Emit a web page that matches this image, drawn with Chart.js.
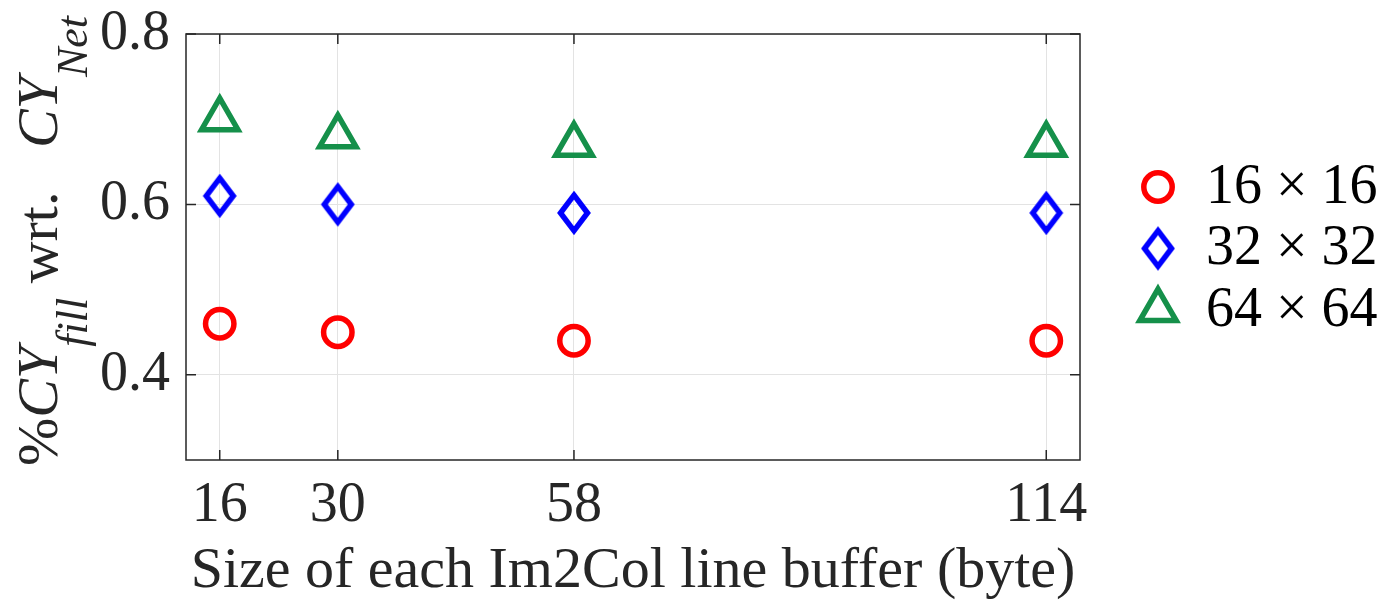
<!DOCTYPE html>
<html>
<head>
<meta charset="utf-8">
<script src="https://cdn.jsdelivr.net/npm/chart.js@4.4.1/dist/chart.umd.min.js"></script>
<style>
  body { margin: 0; background: #fff; }
  #wrap { width: 1389px; height: 601px; }
</style>
</head>
<body>
<div id="wrap"><canvas id="cyChart"></canvas></div>
<script>
// x: line buffer size in bytes
const bufferSizes = [16, 30, 58, 114];
const seriesLabels = ['16 \u00d7 16', '32 \u00d7 32', '64 \u00d7 64'];
// %CY_fill wrt. CY_Net for each kernel size
const cy16 = [0.46, 0.45, 0.44, 0.44];
const cy32 = [0.61, 0.60, 0.59, 0.59];
const cy64 = [0.70, 0.68, 0.67, 0.67];
const yTicks = [0.4, 0.6, 0.8];
const xTitle = 'Size of each Im2Col line buffer (byte)';

const FONT = "'Liberation Serif', 'Times New Roman', serif";
const AXIS_COLOR = '#262626';
const RED = '#ff0000', BLUE = '#0000ff', GREEN = '#15904a';

// matlab style diamond (taller than wide)
function makeDiamond(color) {
  const c = document.createElement('canvas');
  c.width = 42; c.height = 54;
  const g = c.getContext('2d');
  g.strokeStyle = color;
  g.lineWidth = 5.5;
  g.lineJoin = 'miter';
  g.beginPath();
  g.moveTo(21, 27 - 17.8);
  g.lineTo(21 + 13.5, 27);
  g.lineTo(21, 27 + 17.8);
  g.lineTo(21 - 13.5, 27);
  g.closePath();
  g.stroke();
  return c;
}
const diamondImg = makeDiamond(BLUE);

function toPoints(ys) {
  return bufferSizes.map((x, i) => ({ x: x, y: ys[i] }));
}

const markerStyles = [
  { pointStyle: 'circle', radius: 14.2, color: RED },
  { pointStyle: diamondImg, radius: 16, color: BLUE },
  { pointStyle: 'triangle', radius: 21, color: GREEN }
];
const seriesValues = [cy16, cy32, cy64];

const datasets = seriesValues.map((ys, i) => ({
  label: seriesLabels[i],
  data: toPoints(ys),
  showLine: false,
  pointStyle: markerStyles[i].pointStyle,
  pointRadius: markerStyles[i].radius,
  pointHoverRadius: markerStyles[i].radius,
  pointBorderWidth: 5.5,
  pointHoverBorderWidth: 5.5,
  pointBorderColor: markerStyles[i].color,
  pointBackgroundColor: 'rgba(0,0,0,0)'
}));

// y title has italic parts and subscripts, drawn by hand
const yTitleParts = [
  { text: '%', italic: false, sub: false },
  { text: 'CY', italic: true, sub: false },
  { text: 'fill', italic: true, sub: true },
  { text: ' wrt.   ', italic: false, sub: false },
  { text: 'CY', italic: true, sub: false },
  { text: 'Net', italic: true, sub: true }
];

const boxPlugin = {
  id: 'matlabBox',
  afterDraw(chart) {
    const ctx = chart.ctx;
    const a = chart.chartArea;
    const xs = chart.scales.x, ys = chart.scales.y;
    const tick = 10;
    ctx.save();
    ctx.strokeStyle = AXIS_COLOR;
    ctx.lineWidth = 1.5;
    ctx.strokeRect(a.left, a.top, a.right - a.left, a.bottom - a.top);
    ctx.beginPath();
    bufferSizes.forEach(v => {
      const px = xs.getPixelForValue(v);
      ctx.moveTo(px, a.bottom); ctx.lineTo(px, a.bottom - tick);
      ctx.moveTo(px, a.top); ctx.lineTo(px, a.top + tick);
    });
    yTicks.forEach(v => {
      const py = ys.getPixelForValue(v);
      ctx.moveTo(a.left, py); ctx.lineTo(a.left + tick, py);
      ctx.moveTo(a.right, py); ctx.lineTo(a.right - tick, py);
    });
    ctx.stroke();

    // y axis title
    ctx.translate(57, 466);
    ctx.rotate(-Math.PI / 2);
    ctx.fillStyle = AXIS_COLOR;
    ctx.textBaseline = 'alphabetic';
    ctx.textAlign = 'left';
    let pos = 0;
    yTitleParts.forEach(p => {
      const size = p.sub ? 44 : 58;
      ctx.font = (p.italic ? 'italic ' : '') + size + 'px ' + FONT;
      ctx.fillText(p.text, pos, p.sub ? 30 : 0);
      pos += ctx.measureText(p.text).width;
    });
    ctx.restore();

    // legend
    ctx.save();
    chart.data.datasets.forEach((ds, i) => {
      const cy = 187 + i * 61.5;
      const m = markerStyles[i];
      ctx.strokeStyle = m.color;
      ctx.fillStyle = 'rgba(0,0,0,0)';
      ctx.lineWidth = 5.5;
      Chart.helpers.drawPoint(ctx, {
        pointStyle: m.pointStyle, radius: m.radius, rotation: 0, borderWidth: 5.5
      }, 1158, cy);
      ctx.fillStyle = '#000';
      ctx.font = '56px ' + FONT;
      ctx.textBaseline = 'middle';
      ctx.textAlign = 'left';
      ctx.fillText(ds.label, 1206, cy + 1);
    });
    ctx.restore();
  }
};

new Chart(document.getElementById('cyChart'), {
  type: 'scatter',
  data: { datasets: datasets },
  options: {
    responsive: true,
    maintainAspectRatio: false,
    animation: false,
    layout: { padding: { left: 0, right: 309, top: 34, bottom: 0 } },
    plugins: {
      legend: { display: false },
      tooltip: { enabled: false }
    },
    scales: {
      x: {
        type: 'linear',
        min: 12,
        max: 118,
        afterBuildTicks: s => { s.ticks = bufferSizes.map(v => ({ value: v })); },
        afterFit: s => { s.height = 141; s.paddingLeft = 0; s.paddingRight = 0; },
        grid: { color: '#e3e3e3', lineWidth: 1, drawTicks: false },
        border: { display: false },
        ticks: {
          autoSkip: false,
          maxRotation: 0,
          padding: 13,
          color: AXIS_COLOR,
          font: { family: FONT, size: 56 }
        },
        title: {
          display: true,
          text: xTitle,
          color: AXIS_COLOR,
          font: { family: FONT, size: 58, lineHeight: 1 },
          padding: { top: 0, bottom: 0 }
        }
      },
      y: {
        min: 0.3,
        max: 0.8,
        afterBuildTicks: s => { s.ticks = yTicks.map(v => ({ value: v })); },
        afterFit: s => { s.width = 186; s.paddingTop = 0; s.paddingBottom = 0; },
        grid: { color: '#e3e3e3', lineWidth: 1, drawTicks: false },
        border: { display: false },
        ticks: {
          padding: 16,
          color: AXIS_COLOR,
          font: { family: FONT, size: 56 },
          callback: v => v.toFixed(1)
        }
      }
    }
  },
  plugins: [boxPlugin]
});
</script>
</body>
</html>
